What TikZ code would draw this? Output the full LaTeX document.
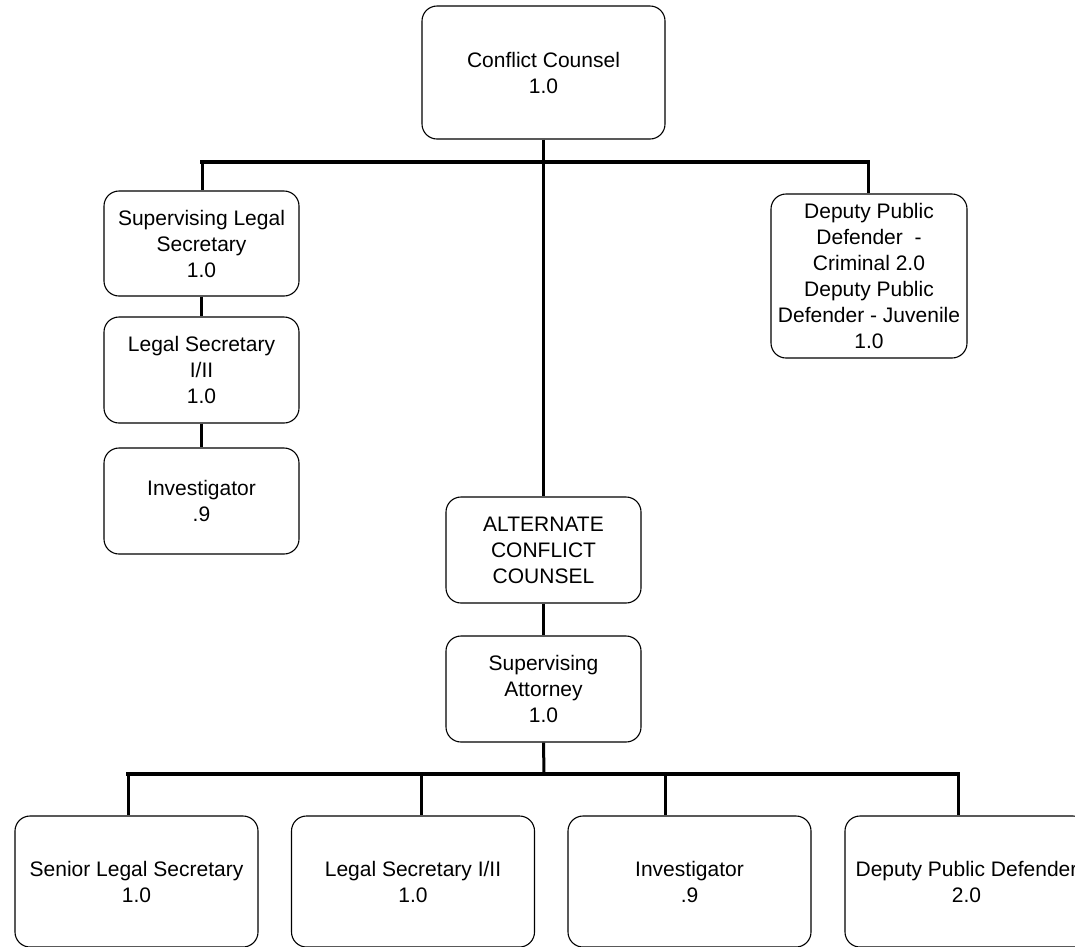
\documentclass[tikz,border=0pt]{standalone}
\usepackage{fontspec}
\setmainfont{Liberation Sans}
\begin{document}
\begin{tikzpicture}[x=1pt,y=-1pt,
  box/.style={draw=black, line width=1.1pt, rounded corners=15pt, inner sep=0pt,
    align=center, font=\fontsize{21}{26}\selectfont, anchor=center},
  small/.style={box, minimum width=195pt, minimum height=106pt},
  wide/.style={box, minimum width=243pt, minimum height=131pt},
  link/.style={line width=3pt},
  bar/.style={line width=4pt, line cap=rect}]
\path[use as bounding box, fill=white] (0,0) rectangle (1075,946);
\clip (0,0) rectangle (1075,946);
% nodes
\node[box, minimum width=243pt, minimum height=133pt] (cc) at (543.5,72.5) {Conflict Counsel\\1.0};
\node[small, minimum height=105pt] (sls) at (201.5,243.5) {Supervising Legal\\Secretary\\1.0};
\node[small] (ls) at (201.5,370) {Legal Secretary\\I/II\\1.0};
\node[small] (inv1) at (201.5,501) {Investigator\\.9};
\node[small, minimum width=196pt, minimum height=164pt] (dpd) at (869,276) {Deputy Public\\Defender\ \ -\\Criminal 2.0\\Deputy Public\\Defender - Juvenile\\1.0};
\node[small] (acc) at (543.5,550) {ALTERNATE\\CONFLICT\\COUNSEL};
\node[small] (sa) at (543.5,689) {Supervising\\Attorney\\1.0};
\node[wide] (b1) at (136.5,881.5) {Senior Legal Secretary\\1.0};
\node[wide] (b2) at (413,881.5) {Legal Secretary I/II\\1.0};
\node[wide] (b3) at (689.5,881.5) {Investigator\\.9};
\node[wide] (b4) at (966.5,881.5) {Deputy Public Defender\\2.0};
% bar coordinates
\coordinate (t1) at (202,162);
\coordinate (t2) at (868,162);
\coordinate (u1) at (128,774);
\coordinate (u2) at (421,774);
\coordinate (u3) at (665,774);
\coordinate (u4) at (958,774);
\coordinate (um) at (544,774);
% connectors top
\draw[link] (cc.south) -- (acc.north);
\draw[bar] (t1) -- (t2);
\draw[link] (t1) -- (t1 |- sls.north);
\draw[link] (t2) -- (t2 |- dpd.north);
\draw[link] (sls.south) -- (ls.north);
\draw[link] (ls.south) -- (inv1.north);
\draw[link] (acc.south) -- (sa.north);
% connectors bottom
\draw[link] (sa.south) -- (um);
\draw[bar] (u1) -- (u4);
\draw[link] (u1) -- (u1 |- b1.north);
\draw[link] (u2) -- (u2 |- b2.north);
\draw[link] (u3) -- (u3 |- b3.north);
\draw[link] (u4) -- (u4 |- b4.north);
\end{tikzpicture}
\end{document}
